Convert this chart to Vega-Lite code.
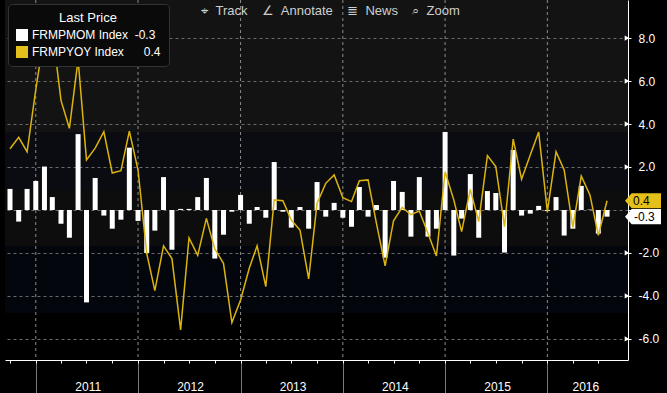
{
  "$schema": "https://vega.github.io/schema/vega-lite/v6.json",
  "width": 623,
  "height": 360,
  "autosize": {"type": "none"},
  "padding": {"left": 5, "top": 0, "right": 39, "bottom": 33},
  "background": "#000000",
  "title": {
    "text": "⌖\u00a0\u00a0Track\u00a0\u00a0\u00a0\u00a0∠\u00a0\u00a0Annotate\u00a0\u00a0\u00a0\u00a0≣\u00a0\u00a0News\u00a0\u00a0\u00a0\u00a0⌕\u00a0\u00a0Zoom",
    "anchor": "middle",
    "frame": "group",
    "offset": -24,
    "baseline": "middle",
    "dx": 14,
    "color": "#cfcfcf",
    "fontSize": 13,
    "fontWeight": "normal",
    "font": "Liberation Sans, DejaVu Sans"
  },
  "data": {
    "format": {"parse": {"d": "date"}},
    "values": [
      {"d": "2010/10/01", "mom": 0.98, "yoy": 2.85},
      {"d": "2010/11/01", "mom": -0.54, "yoy": 3.38},
      {"d": "2010/12/01", "mom": 0.98, "yoy": 2.71},
      {"d": "2011/01/01", "mom": 1.35, "yoy": 5.6},
      {"d": "2011/02/01", "mom": 2.02, "yoy": 8.2},
      {"d": "2011/03/01", "mom": 0.6, "yoy": 8.4},
      {"d": "2011/04/01", "mom": -0.64, "yoy": 5.1},
      {"d": "2011/05/01", "mom": -1.29, "yoy": 3.8},
      {"d": "2011/06/01", "mom": 3.53, "yoy": 7.0},
      {"d": "2011/07/01", "mom": -4.3, "yoy": 2.33},
      {"d": "2011/08/01", "mom": 1.49, "yoy": 2.88},
      {"d": "2011/09/01", "mom": -0.26, "yoy": 3.64},
      {"d": "2011/10/01", "mom": -0.87, "yoy": 1.72},
      {"d": "2011/11/01", "mom": -0.45, "yoy": 1.83},
      {"d": "2011/12/01", "mom": 2.9, "yoy": 3.67},
      {"d": "2012/01/01", "mom": -0.51, "yoy": 1.86},
      {"d": "2012/02/01", "mom": -2.0, "yoy": -2.02},
      {"d": "2012/03/01", "mom": -0.96, "yoy": -3.75},
      {"d": "2012/04/01", "mom": 1.53, "yoy": -1.67},
      {"d": "2012/05/01", "mom": -1.85, "yoy": -2.26},
      {"d": "2012/06/01", "mom": 0.05, "yoy": -5.58},
      {"d": "2012/07/01", "mom": 0.05, "yoy": -1.3},
      {"d": "2012/08/01", "mom": 0.6, "yoy": -2.11},
      {"d": "2012/09/01", "mom": 1.49, "yoy": -0.39},
      {"d": "2012/10/01", "mom": -2.26, "yoy": -1.81},
      {"d": "2012/11/01", "mom": -1.15, "yoy": -2.48},
      {"d": "2012/12/01", "mom": -0.08, "yoy": -5.24},
      {"d": "2013/01/01", "mom": 0.7, "yoy": -4.19},
      {"d": "2013/02/01", "mom": -0.64, "yoy": -2.71},
      {"d": "2013/03/01", "mom": 0.14, "yoy": -1.67},
      {"d": "2013/04/01", "mom": -0.36, "yoy": -3.57},
      {"d": "2013/05/01", "mom": 2.23, "yoy": 0.47},
      {"d": "2013/06/01", "mom": -0.08, "yoy": 0.43},
      {"d": "2013/07/01", "mom": -0.82, "yoy": -0.47},
      {"d": "2013/08/01", "mom": 0.14, "yoy": -0.93},
      {"d": "2013/09/01", "mom": -0.87, "yoy": -3.21},
      {"d": "2013/10/01", "mom": 1.3, "yoy": 0.31},
      {"d": "2013/11/01", "mom": -0.31, "yoy": 1.24},
      {"d": "2013/12/01", "mom": 0.33, "yoy": 1.63},
      {"d": "2014/01/01", "mom": -0.36, "yoy": 0.57},
      {"d": "2014/02/01", "mom": -0.78, "yoy": 0.39},
      {"d": "2014/03/01", "mom": 1.07, "yoy": 1.36},
      {"d": "2014/04/01", "mom": -0.31, "yoy": 1.4},
      {"d": "2014/05/01", "mom": 0.23, "yoy": -0.62},
      {"d": "2014/06/01", "mom": -2.22, "yoy": -2.6},
      {"d": "2014/07/01", "mom": 1.35, "yoy": -0.5},
      {"d": "2014/08/01", "mom": 0.84, "yoy": 0.12},
      {"d": "2014/09/01", "mom": -1.24, "yoy": -0.22},
      {"d": "2014/10/01", "mom": 1.53, "yoy": -0.05},
      {"d": "2014/11/01", "mom": -1.24, "yoy": -1.09},
      {"d": "2014/12/01", "mom": -0.87, "yoy": -2.14},
      {"d": "2015/01/01", "mom": 3.63, "yoy": 1.78},
      {"d": "2015/02/01", "mom": -2.12, "yoy": 0.47},
      {"d": "2015/03/01", "mom": -0.4, "yoy": -1.01},
      {"d": "2015/04/01", "mom": 1.67, "yoy": 0.96},
      {"d": "2015/05/01", "mom": -1.29, "yoy": -0.54},
      {"d": "2015/06/01", "mom": 0.88, "yoy": 2.53},
      {"d": "2015/07/01", "mom": 0.79, "yoy": 2.02},
      {"d": "2015/08/01", "mom": -1.98, "yoy": -0.78},
      {"d": "2015/09/01", "mom": 2.79, "yoy": 3.3},
      {"d": "2015/10/01", "mom": -0.26, "yoy": 1.43},
      {"d": "2015/11/01", "mom": -0.17, "yoy": 2.56},
      {"d": "2015/12/01", "mom": 0.19, "yoy": 3.63},
      {"d": "2016/01/01", "mom": -0.05, "yoy": -0.08},
      {"d": "2016/02/01", "mom": 0.6, "yoy": 2.71},
      {"d": "2016/03/01", "mom": -1.19, "yoy": 1.86},
      {"d": "2016/04/01", "mom": -0.87, "yoy": -0.81},
      {"d": "2016/05/01", "mom": 1.12, "yoy": 1.58},
      {"d": "2016/06/01", "mom": 0.02, "yoy": 0.7},
      {"d": "2016/07/01", "mom": -1.1, "yoy": -1.18},
      {"d": "2016/08/01", "mom": -0.31, "yoy": 0.43}
    ]
  },
  "resolve": {"axis": {"x": "independent"}},
  "layer": [
    {
      "data": {"values": [{"yr": "2011/01/01"}, {"yr": "2012/01/01"}, {"yr": "2013/01/01"}, {"yr": "2014/01/01"}, {"yr": "2015/01/01"}, {"yr": "2016/01/01"}]},
      "mark": {"type": "rule", "color": "#8c8c8c", "strokeDash": [3, 3], "strokeWidth": 1, "opacity": 1},
      "encoding": {
        "x": {"field": "yr", "type": "temporal", "axis": null}
      }
    },
    {
      "transform": [{"fold": ["mom"], "as": ["series", "val"]}],
      "mark": {"type": "bar", "width": 5, "clip": true},
      "encoding": {
        "x": {
          "field": "d",
          "type": "temporal",
          "scale": {"domain": [{"year": 2010, "month": 10, "date": 1}, {"year": 2016, "month": 9, "date": 27}]},
          "axis": {
            "orient": "bottom",
            "title": null,
            "values": [
              {"year": 2011, "month": 1, "date": 1}, {"year": 2012, "month": 1, "date": 1}, {"year": 2013, "month": 1, "date": 1},
              {"year": 2014, "month": 1, "date": 1}, {"year": 2015, "month": 1, "date": 1}, {"year": 2016, "month": 1, "date": 1}
            ],
            "grid": false,
            "domain": true,
            "domainColor": "#ffffff",
            "domainWidth": 1,
            "tickColor": "#7a7a7a",
            "tickSize": 33,
            "format": "%Y",
            "labelOffset": {"condition": {"test": "year(datum.value) == 2016", "value": 38}, "value": 52},
            "labelPadding": -7,
            "labelBaseline": "middle",
            "labelColor": "#ffffff",
            "labelFont": "Liberation Sans",
            "labelFontSize": 12,
            "labelOverlap": false,
            "labelFlush": false,
            "labelBound": false
          }
        },
        "y": {
          "field": "val",
          "type": "quantitative",
          "scale": {"domain": [-6.98, 9.77], "nice": false, "zero": false},
          "axis": {
            "orient": "right",
            "title": null,
            "values": [-6, -5, -4, -3, -2, -1, 0, 1, 2, 3, 4, 5, 6, 7, 8, 9],
            "grid": true,
            "gridColor": "#6b6b6b",
            "gridDash": [3, 3],
            "gridOpacity": {"condition": {"test": "datum.value % 2 != 0", "value": 0}, "value": 1},
            "domain": true,
            "domainColor": "#ffffff",
            "domainWidth": 1,
            "tickColor": "#ffffff",
            "tickSize": 3,
            "labelExpr": "(datum.value % 2 == 0 && datum.value != 0) ? replace(format(datum.value, '.1f'), '\u2212', '-') : ''",
            "labelColor": "#ffffff",
            "labelFont": "Liberation Sans",
            "labelFontSize": 12,
            "labelPadding": 7,
            "labelOverlap": false,
            "labelFlush": false,
            "labelBound": false
          }
        },
        "color": {
          "field": "series",
          "type": "nominal",
          "scale": {"domain": ["mom", "yoy"], "range": ["#ffffff", "#e6c01a"]},
          "legend": {
            "title": "Last Price",
            "orient": "none",
            "legendX": 3,
            "legendY": 4,
            "symbolType": "square",
            "symbolSize": 144,
            "symbolStrokeWidth": 0,
            "labelExpr": "datum.value == 'mom' ? 'FRMPMOM Index\u00a0\u00a0-0.3' : 'FRMPYOY Index\u00a0\u00a0\u00a0\u00a0\u00a0\u00a00.4'",
            "fillColor": "#0a0a0a",
            "strokeColor": "#333333",
            "cornerRadius": 4,
            "padding": 8,
            "titleColor": "#ffffff",
            "titleFont": "Liberation Sans",
            "titleFontSize": 13,
            "titleFontWeight": "normal",
            "titleAnchor": "middle",
            "titlePadding": 4,
            "labelColor": "#ffffff",
            "labelFont": "Liberation Sans",
            "labelFontSize": 12,
            "labelOffset": 4,
            "rowPadding": 5,
            "labelLimit": 300
          }
        }
      }
    },
    {
      "mark": {"type": "line", "color": "#dcb40e", "strokeWidth": 1.5, "clip": true},
      "encoding": {
        "x": {
          "field": "d",
          "type": "temporal",
          "axis": {
            "orient": "bottom",
            "title": null,
            "values": [
              {"year": 2010, "month": 10, "date": 1},
              {"year": 2011, "month": 1, "date": 1}, {"year": 2011, "month": 4, "date": 1}, {"year": 2011, "month": 7, "date": 1}, {"year": 2011, "month": 10, "date": 1},
              {"year": 2012, "month": 1, "date": 1}, {"year": 2012, "month": 4, "date": 1}, {"year": 2012, "month": 7, "date": 1}, {"year": 2012, "month": 10, "date": 1},
              {"year": 2013, "month": 1, "date": 1}, {"year": 2013, "month": 4, "date": 1}, {"year": 2013, "month": 7, "date": 1}, {"year": 2013, "month": 10, "date": 1},
              {"year": 2014, "month": 1, "date": 1}, {"year": 2014, "month": 4, "date": 1}, {"year": 2014, "month": 7, "date": 1}, {"year": 2014, "month": 10, "date": 1},
              {"year": 2015, "month": 1, "date": 1}, {"year": 2015, "month": 4, "date": 1}, {"year": 2015, "month": 7, "date": 1}, {"year": 2015, "month": 10, "date": 1},
              {"year": 2016, "month": 1, "date": 1}, {"year": 2016, "month": 4, "date": 1}, {"year": 2016, "month": 7, "date": 1}
            ],
            "grid": false,
            "domain": false,
            "labels": false,
            "tickColor": "#ffffff",
            "tickSize": 3
          }
        },
        "y": {"field": "yoy", "type": "quantitative", "title": null}
      }
    },
    {
      "data": {"values": [{"v": -6}, {"v": -4}, {"v": -2}, {"v": 2}, {"v": 4}, {"v": 6}, {"v": 8}]},
      "mark": {"type": "point", "shape": "triangle-right", "filled": true, "color": "#ffffff", "size": 28, "opacity": 1, "xOffset": 4},
      "encoding": {
        "x": {"datum": {"year": 2016, "month": 9, "date": 27}, "type": "temporal", "axis": null},
        "y": {"field": "v", "type": "quantitative", "title": null}
      }
    },
    {
      "transform": [{"filter": "year(datum.d) == 2016 && month(datum.d) == 7"}],
      "mark": {"type": "point", "shape": "M-1,0L-0.63,-0.42L1,-0.42L1,0.42L-0.63,0.42Z", "filled": true, "color": "#e6c01a", "size": 1296, "opacity": 1, "xOffset": 20, "strokeWidth": 0},
      "encoding": {
        "x": {"datum": {"year": 2016, "month": 9, "date": 27}, "type": "temporal", "axis": null},
        "y": {"field": "yoy", "type": "quantitative", "title": null}
      }
    },
    {
      "transform": [{"filter": "year(datum.d) == 2016 && month(datum.d) == 7"}],
      "mark": {"type": "text", "align": "left", "baseline": "middle", "dx": 10, "color": "#000000", "font": "Liberation Sans", "fontSize": 12},
      "encoding": {
        "x": {"datum": {"year": 2016, "month": 9, "date": 27}, "type": "temporal", "axis": null},
        "y": {"field": "yoy", "type": "quantitative", "title": null},
        "text": {"field": "yoy", "type": "quantitative", "format": ".1f"}
      }
    },
    {
      "transform": [{"filter": "year(datum.d) == 2016 && month(datum.d) == 7"}],
      "mark": {"type": "point", "shape": "M-1,0L-0.63,-0.42L1,-0.42L1,0.42L-0.63,0.42Z", "filled": true, "color": "#ffffff", "size": 1296, "opacity": 1, "xOffset": 20, "strokeWidth": 0},
      "encoding": {
        "x": {"datum": {"year": 2016, "month": 9, "date": 27}, "type": "temporal", "axis": null},
        "y": {"field": "mom", "type": "quantitative", "title": null}
      }
    },
    {
      "transform": [{"filter": "year(datum.d) == 2016 && month(datum.d) == 7"}],
      "mark": {"type": "text", "align": "left", "baseline": "middle", "dx": 11, "color": "#000000", "font": "Liberation Sans", "fontSize": 12},
      "encoding": {
        "x": {"datum": {"year": 2016, "month": 9, "date": 27}, "type": "temporal", "axis": null},
        "y": {"field": "mom", "type": "quantitative", "title": null},
        "text": {"field": "mom", "type": "quantitative", "format": ".1f"}
      }
    }
  ],
  "config": {
    "font": "Liberation Sans",
    "locale": {"number": {"decimal": ".", "thousands": ",", "grouping": [3], "currency": ["$", ""], "minus": "-"}},
    "view": {
      "stroke": null,
      "fill": {
        "gradient": "linear",
        "x1": 0, "y1": 0, "x2": 0, "y2": 1,
        "stops": [
          {"offset": 0, "color": "#131313"},
          {"offset": 0.367, "color": "#131313"},
          {"offset": 0.367, "color": "#0a0c11"},
          {"offset": 0.528, "color": "#0a0c11"},
          {"offset": 0.528, "color": "#0d0d0d"},
          {"offset": 0.683, "color": "#0d0d0d"},
          {"offset": 0.683, "color": "#03060c"},
          {"offset": 0.869, "color": "#03060c"},
          {"offset": 0.869, "color": "#000000"},
          {"offset": 1, "color": "#000000"}
        ]
      }
    }
  }
}
